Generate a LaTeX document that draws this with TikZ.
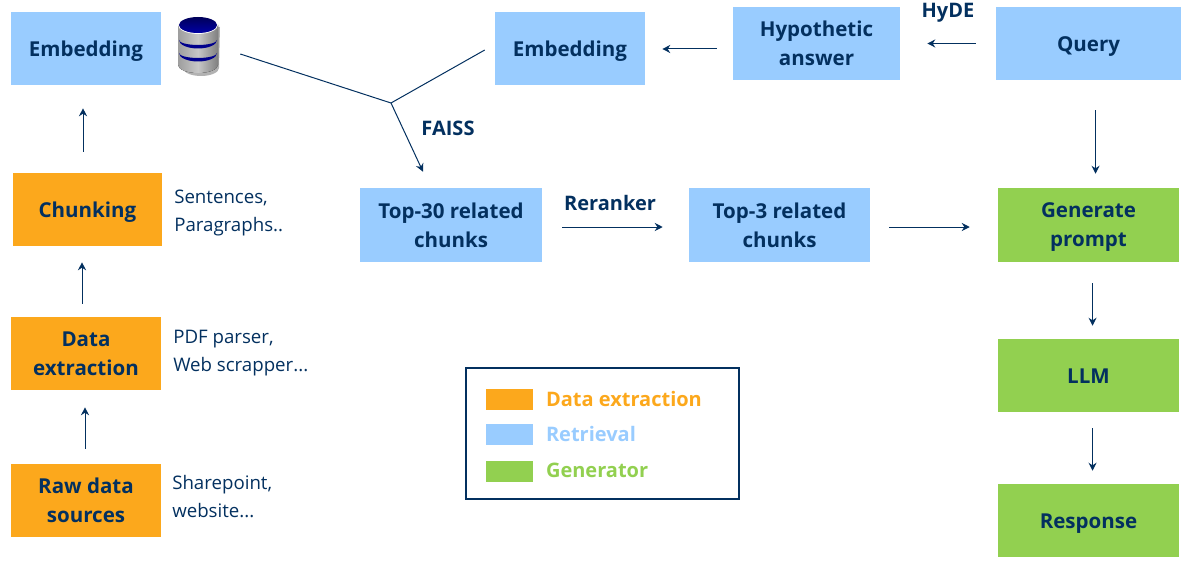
\documentclass[tikz,border=0pt]{standalone}
\usepackage{fontspec}
\setmainfont{Open Sans}
\usepackage{tikz}
\usetikzlibrary{positioning,calc,arrows.meta}

\definecolor{navy}{HTML}{03305F}
\definecolor{extractcol}{HTML}{FCA81C}
\definecolor{retrievecol}{HTML}{99CCFF}
\definecolor{generatecol}{HTML}{92D050}
\def\px{.75pt}

\tikzset{
   block/.style={
      minimum width = 150*\px,
      minimum height = 73*\px,
      inner sep = 0pt,
      align = center,
      text = navy,
      text depth = 0pt,
      font = \fontsize{15.4}{21.75}\selectfont\bfseries
   },
   oneline/.style={text height=12pt},
   nudged/.style={text depth=-1.5pt},
   extract/.style={block, fill=extractcol},
   retrieve/.style={block, fill=retrievecol},
   generate/.style={block, fill=generatecol},
   note/.style={anchor=west, align=left, inner sep=0pt, text=navy, font=\fontsize{14}{21}\selectfont},
   tag/.style={inner sep=0pt, text=navy, font=\fontsize{15}{18}\selectfont\bfseries},
   swatch/.style={minimum width=47*\px, minimum height=21*\px, inner sep=0pt},
   keytext/.style={anchor=west, inner sep=0pt, yshift=.75pt, font=\fontsize{15}{18}\selectfont\bfseries},
   flow/.style={draw=navy, line width=.75pt, -{Stealth[length=6pt,width=6pt]}}
}

\begin{document}
\begin{tikzpicture}[x=.75pt,y=-.75pt]
\useasboundingbox (0,0) rectangle (1194,563);

% Left column
\node[retrieve, oneline] (embedleft) at (86,48.5) {Embedding};
\node[extract, oneline, minimum width = 149*\px] (chunking) at (87.5,209.5) {Chunking};
\node[extract, nudged] (extraction) at (86,353.5) {Data\\extraction};
\node[extract] (rawdata) at (86,500.5) {Raw data\\sources};

% Top row
\node[retrieve, oneline] (embedright) at (570,48.5) {Embedding};
\node[retrieve, nudged, minimum width = 167*\px] (hypo) at (816.5,43.5) {Hypothetic\\answer};
\node[retrieve, oneline, minimum width = 185*\px] (query) at (1088.5,43.5) {Query};

% Middle row
\node[retrieve, minimum width = 182*\px, minimum height = 74*\px] (top30) at (451,225) {Top-30 related\\chunks};
\node[retrieve, minimum width = 181*\px, minimum height = 74*\px] (top3) at (779.5,225) {Top-3 related\\chunks};

% Right column
\node[generate, nudged, minimum width = 181*\px, minimum height = 74*\px] (prompt) at (1088.5,225) {Generate\\prompt};
\node[generate, oneline, minimum width = 181*\px] (llm) at (1088.5,375.5) {LLM};
\node[generate, oneline, minimum width = 181*\px] (response) at (1088.5,520.5) {Response};

% Side notes
\node[note] (notechunk) at (174,213) {Sentences,\\Paragraphs..};
\node[note] (noteextract) at (173,353.5) {PDF parser,\\Web scrapper...};
\node[note] (noteraw) at (172,496.5) {Sharepoint,\\website...};

% Arrow labels
\node[tag] (faiss) at (448,128) {FAISS};
\node[tag] (reranker) at (610,203) {Reranker};
\node[tag] (hyde) at (948,13) {HyDE};

% Database icon
\begin{scope}[shift={(198,0)}]
\fill[black!30] (-15,27) -- (-15,68) arc[start angle=180, end angle=0, x radius=18, y radius=8] -- (22,27) -- cycle;
\fill[left color=black!38, right color=black!50, middle color=black!22] (-20,25) -- (-20,65) arc[start angle=180, end angle=0, x radius=20, y radius=8] -- (20,25) -- cycle;
\foreach \bandy in {40,53} {
   \fill[blue!55!black] (-19,\bandy) arc[start angle=180, end angle=0, x radius=19, y radius=8.5]
      arc[start angle=0, end angle=180, x radius=19, y radius=5] -- cycle;
}
\draw[white, line width=.6pt] (0,25) ellipse[x radius=19.5, y radius=8.5];
\shade[top color=blue!35!black, bottom color=blue!65!black] (0,25) ellipse[x radius=19, y radius=8];
\end{scope}

% Legend
\node[draw=navy, line width=1.5pt, minimum width = 273*\px, minimum height = 131*\px, inner sep=0pt] (legend) at (602.3,433.3) {};
\node[swatch, fill=extractcol] (keyextract) at (509.5,399.5) {};
\node[swatch, fill=retrievecol] (keyretrieve) at (509.5,434.5) {};
\node[swatch, fill=generatecol] (keygenerate) at (509.5,471.5) {};
\node[keytext, text=extractcol, right = 12.5*\px of keyextract] (textextract) {Data extraction};
\node[keytext, text=retrievecol, right = 12.5*\px of keyretrieve] (textretrieve) {Retrieval};
\node[keytext, text=generatecol, right = 12.5*\px of keygenerate] (textgenerate) {Generator};

% Junction of the two embeddings
\coordinate (junction) at (391,103);

% Connecting Arrows
\draw [flow] ($(rawdata.north)+(-1,-15)$) -- ($(extraction.south)+(-1,17)$);
\draw [flow] ($(extraction.north)+(-4,-13)$) -- ($(chunking.south)+(-5.5,16)$);
\draw [flow] ($(chunking.north)+(-4.5,-21)$) -- ($(embedleft.south)+(-3,23)$);
\draw [flow] ($(query.west)+(-20,0)$) -- ($(hypo.east)+(27,0)$);
\draw [flow] ($(hypo.west)+(-16,5.5)$) -- ($(embedright.east)+(17,0.5)$);
\draw [flow, -] ($(embedleft.east)+(79,5.5)$) -- (junction);
\draw [flow, -] ($(embedright.west)+(-10,1.5)$) -- (junction);
\draw [flow] (junction) -- ($(top30.north)+(-28,-16)$);
\draw [flow] ($(top30.east)+(20,2)$) -- ($(top3.west)+(-26,2)$);
\draw [flow] ($(top3.east)+(19,2)$) -- ($(prompt.west)+(-28,2)$);
\draw [flow] ($(query.south)+(7,30)$) -- ($(prompt.north)+(7,-14)$);
\draw [flow] ($(prompt.south)+(4,21)$) -- ($(llm.north)+(4,-13)$);
\draw [flow] ($(llm.south)+(4,16)$) -- ($(response.north)+(4,-13)$);

\end{tikzpicture}
\end{document}
